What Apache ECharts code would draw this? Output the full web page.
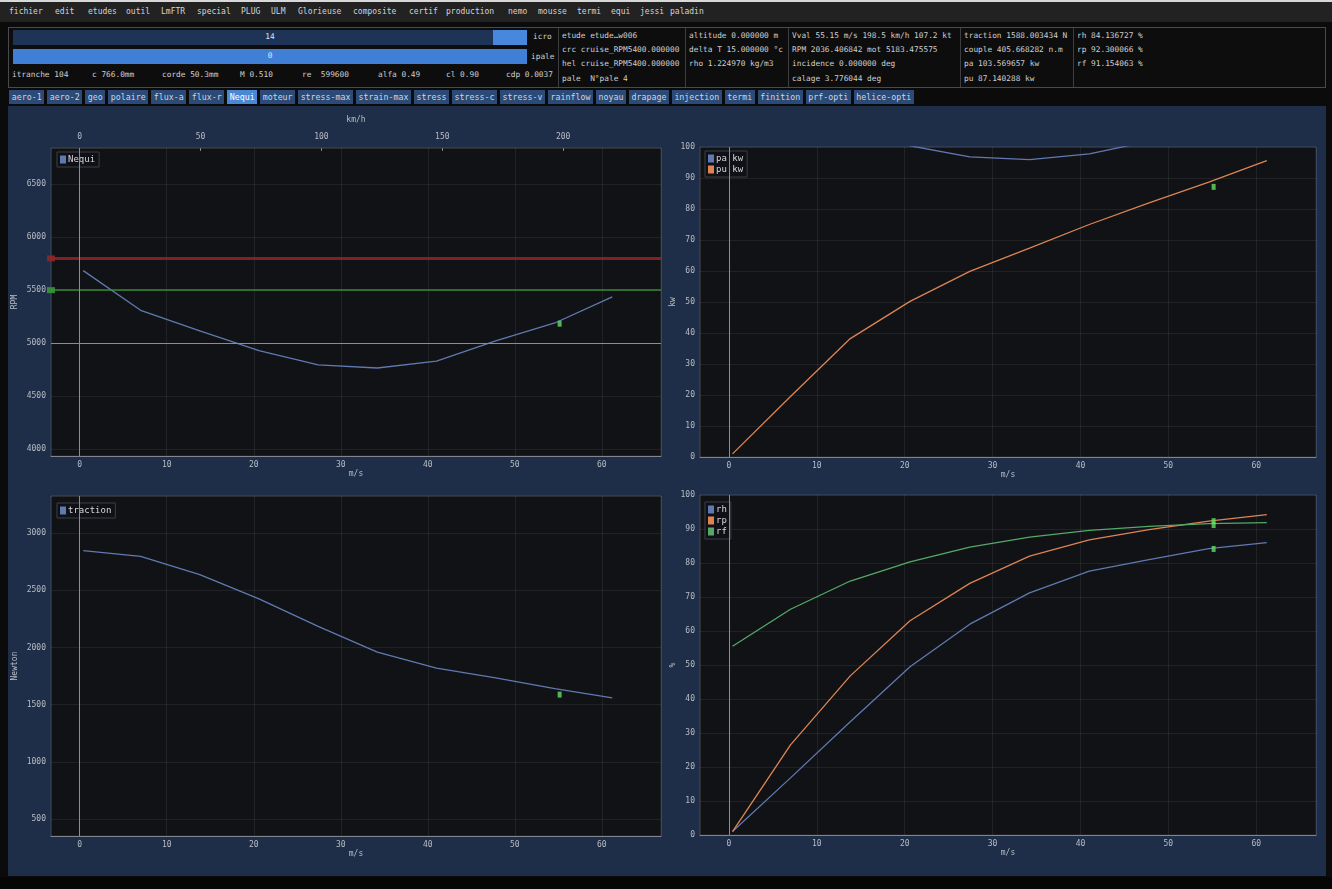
<!DOCTYPE html>
<html>
<head>
<meta charset="utf-8">
<title>Nequi</title>
<script src="https://cdn.jsdelivr.net/npm/echarts@6/dist/echarts.min.js"></script>
<style>
  html, body { margin: 0; padding: 0; width: 1332px; height: 889px; overflow: hidden;
    background: #0b0b0c; font-family: "DejaVu Sans Mono", "Liberation Mono", monospace; }
  .abs { position: absolute; white-space: pre; }
  #strip { left: 0; top: 0; width: 1332px; height: 2px; background: #d8d8d8; }
  #menubar { left: 0; top: 2px; width: 1332px; height: 20px; background: #222223; }
  #menubar span { position: absolute; top: 5px; font-size: 8px; color: #d4d4d4; }
  #info { left: 8px; top: 27px; width: 1316px; height: 59px; border: 1px solid #4a4a4a; background: #0d0d0e; }
  .sep { position: absolute; top: 28px; width: 1px; height: 59px; background: #3e3e3e; }
  .txt { position: absolute; font-size: 7.8px; color: #cfcfcf; white-space: pre; line-height: 10px; }
  .slider { position: absolute; left: 13px; width: 514px; height: 15px; }
  .slider .v { position: absolute; left: 0; right: 0; top: 2px; text-align: center; font-size: 7.8px; color: #dfe6f2; }
  #tabs { left: 9px; top: 90px; height: 14px; display: flex; gap: 2.5px; }
  #tabs div { height: 14px; line-height: 14px; padding: 0 2.75px; font-size: 8.3px; color: #c9d5ea; background: #2b4a76; }
  #tabs div.on { background: #4a88d6; color: #ffffff; }
  #panel { left: 8px; top: 106px; width: 1318px; height: 770px; background: #1f2e48; }
  #bottom { left: 0; top: 877px; width: 1332px; height: 12px; background: #060606; }
  #chart { position: absolute; left: 0; top: 0; width: 1332px; height: 889px; }
</style>
</head>
<body>
<div id="strip" class="abs"></div>
<div id="menubar" class="abs"></div>
<div id="info" class="abs"></div>
<div id="infoContent"></div>
<div id="tabs" class="abs"></div>
<div id="panel" class="abs"></div>
<div id="bottom" class="abs"></div>
<div id="chart"></div>

<script>
// ---------- menu, info block and tabs ----------
const menuItems = ['fichier', 'edit', 'etudes', 'outil', 'LmFTR', 'special', 'PLUG', 'ULM', 'Glorieuse',
  'composite', 'certif', 'production', 'nemo', 'mousse', 'termi', 'equi', 'jessi', 'paladin'];
const menuLeft = [9, 55, 88, 126, 161, 197, 241, 271, 298, 353, 409, 446, 508, 538, 577, 611, 640, 670];

const tabNames = ['aero-1', 'aero-2', 'geo', 'polaire', 'flux-a', 'flux-r', 'Nequi', 'moteur', 'stress-max',
  'strain-max', 'stress', 'stress-c', 'stress-v', 'rainflow', 'noyau', 'drapage', 'injection', 'termi',
  'finition', 'prf-opti', 'helice-opti'];
const activeTab = 'Nequi';

const sliderIcro = 14;
const sliderIpale = 0;
const stationRow = ['itranche 104', 'c 766.0mm', 'corde 50.3mm', 'M 0.510', 're  599600', 'alfa 0.49', 'cl 0.90', 'cdp 0.0037'];
const stationLeft = [12, 92, 162, 240, 302, 378, 446, 506];

const infoColumns = [
  ['etude etude\u2026w006', 'crc cruise_RPM5400.000000', 'hel cruise_RPM5400.000000', 'pale  N\u00b0pale 4'],
  ['altitude 0.000000 m', 'delta T 15.000000 \u00b0c', 'rho 1.224970 kg/m3'],
  ['Vval 55.15 m/s 198.5 km/h 107.2 kt', 'RPM 2036.406842 mot 5183.475575', 'incidence 0.000000 deg', 'calage 3.776044 deg'],
  ['traction 1588.003434 N', 'couple 405.668282 n.m', 'pa 103.569657 kw', 'pu 87.140288 kw'],
  ['rh 84.136727 %', 'rp 92.300066 %', 'rf 91.154063 %']
];
const columnSep = [558, 685, 788, 960, 1073];

(function buildChrome() {
  const mb = document.getElementById('menubar');
  menuItems.forEach((m, i) => {
    const s = document.createElement('span');
    s.textContent = m; s.style.left = menuLeft[i] + 'px'; mb.appendChild(s);
  });
  const tabs = document.getElementById('tabs');
  tabNames.forEach(t => {
    const d = document.createElement('div');
    d.textContent = t; if (t === activeTab) d.className = 'on'; tabs.appendChild(d);
  });
  const box = document.getElementById('infoContent');
  const add = (html) => { box.insertAdjacentHTML('beforeend', html); };
  add(`<div class="slider" style="top:30px;background:#1d3456"><div style="position:absolute;left:480px;top:0;width:34px;height:15px;background:#4787dc"></div><div class="v">${sliderIcro}</div></div>`);
  add(`<div class="slider" style="top:49px;background:#3f80d6"><div class="v">${sliderIpale}</div></div>`);
  add(`<div class="txt" style="left:533px;top:32px">icro</div>`);
  add(`<div class="txt" style="left:531px;top:52px">ipale</div>`);
  stationRow.forEach((t, i) => add(`<div class="txt" style="left:${stationLeft[i]}px;top:70px">${t}</div>`));
  columnSep.forEach(x => add(`<div class="sep" style="left:${x}px"></div>`));
  infoColumns.forEach((col, c) => {
    col.forEach((t, r) => add(`<div class="txt" style="left:${columnSep[c] + 4}px;top:${31 + r * 14.2}px">${t}</div>`));
  });
})();

// ---------- performance curves versus airspeed (m/s) ----------
const speed     = [0.4, 7.0, 13.8, 20.6, 27.4, 34.2, 41.0, 47.8, 54.6, 61.2];
const nequiRpm  = [5684, 5310, 5115, 4930, 4795, 4765, 4830, 5020, 5190, 5436];
const paKw      = [118, 116, 112, 100.4, 96.8, 95.9, 97.8, 101.8, 103.4, 107];
const puKw      = [1.0, 19.5, 38.2, 50.2, 59.9, 67.4, 75.0, 82.0, 88.7, 95.6];
const tractionN = [2846, 2797, 2637, 2425, 2185, 1960, 1820, 1735, 1640, 1560];
const rhPct     = [1.0, 16.8, 33.3, 49.5, 62.0, 71.2, 77.6, 81.0, 84.2, 86.0];
const rpPct     = [1.0, 26.5, 46.8, 63.0, 74.0, 82.0, 86.8, 89.8, 92.3, 94.2];
const rfPct     = [55.5, 66.4, 74.7, 80.3, 84.7, 87.6, 89.6, 90.8, 91.6, 91.9];

// engine RPM limits and reference
const rpmMaxLimit = 5800;
const rpmMinLimit = 5500;
const rpmRef = 5000;

// current operating point
const opSpeed = 55.15;
const opRpm = 5183.475575;
const opPu = 87.140288;
const opTraction = 1588.003434;
const opRh = 84.136727;
const opRp = 92.300066;
const opRf = 91.154063;

const KMH_PER_MS = 3.6;
const X_MIN = -3.3, X_MAX = 66.8;

const pairs = (ys) => speed.map((v, i) => [v, ys[i]]);

const MONO = 'DejaVu Sans Mono';
const C_BLUE = '#6079b0', C_ORANGE = '#dd8452', C_GREEN = '#55a868';
const C_OP = '#5fe05f';
const labelStyle = { color: '#b8bcc4', fontSize: 8, fontFamily: MONO };
const nameStyle = { color: '#b8bcc4', fontSize: 8, fontFamily: MONO };
const splitStyle = { show: true, lineStyle: { color: 'rgba(255,255,255,0.07)', width: 1 } };

const grids = [
  { left: 51, top: 148, width: 610, height: 308 },
  { left: 700, top: 147, width: 616, height: 310 },
  { left: 51, top: 496, width: 610, height: 340 },
  { left: 700, top: 495, width: 616, height: 340 }
].map(g => Object.assign(g, { show: true, backgroundColor: '#111216', borderColor: 'rgba(255,255,255,0.13)', borderWidth: 1 }));

function msAxis(gridIndex) {
  return {
    type: 'value', gridIndex, position: 'bottom', min: X_MIN, max: X_MAX, splitNumber: 7,
    name: 'm/s', nameLocation: 'middle', nameGap: 14, nameTextStyle: nameStyle,
    axisLine: { show: true, onZero: false, lineStyle: { color: '#80858e' } },
    axisTick: { show: false },
    axisLabel: Object.assign({ margin: 5, showMinLabel: false, showMaxLabel: false,
      formatter: v => (Math.abs(v % 10) < 1e-9 ? String(v) : '') }, labelStyle),
    splitLine: splitStyle
  };
}

function valueAxis(gridIndex, name, min, max, step, nameGap) {
  return {
    type: 'value', gridIndex, min, max, splitNumber: Math.round((max - min) / step),
    name, nameLocation: 'middle', nameGap, nameRotate: 90, nameTextStyle: nameStyle,
    axisLine: { show: false }, axisTick: { show: false },
    axisLabel: Object.assign({ margin: 5, showMinLabel: min % step === 0, showMaxLabel: max % step === 0,
      formatter: v => (Math.abs(v % step) < 1e-9 ? String(v) : '') }, labelStyle),
    splitLine: splitStyle
  };
}

const zeroLine = { xAxis: 0, symbol: 'none', lineStyle: { color: '#8a8d92', width: 1, type: 'solid' }, label: { show: false } };

function lineSeries(name, data, color, xi, yi, marks) {
  const s = {
    name, type: 'line', xAxisIndex: xi, yAxisIndex: yi, data, color,
    showSymbol: false, symbol: 'none', lineStyle: { width: 1.3, color }, clip: true, z: 3
  };
  if (marks) s.markLine = { silent: true, animation: false, symbol: 'none', data: marks };
  return s;
}

function opSeries(name, points, xi, yi) {
  return {
    name, type: 'scatter', xAxisIndex: xi, yAxisIndex: yi, data: points,
    symbol: 'rect', symbolSize: [4, 6], itemStyle: { color: C_OP }, z: 5, silent: true
  };
}

const legendBase = {
  orient: 'vertical', icon: 'rect', itemWidth: 6, itemHeight: 8, itemGap: 2,
  padding: [3, 4, 3, 3], backgroundColor: 'rgba(17,18,22,0.95)', borderColor: '#3b3e45', borderWidth: 1,
  selectedMode: false, textStyle: { color: '#d6d8dc', fontSize: 9, fontFamily: MONO, padding: [0, 0, 0, -3] }
};

const option = {
  animation: false,
  backgroundColor: 'transparent',
  grid: grids,
  xAxis: [
    msAxis(0), msAxis(1), msAxis(2), msAxis(3),
    {
      type: 'value', gridIndex: 0, position: 'top', min: X_MIN * KMH_PER_MS, max: X_MAX * KMH_PER_MS, splitNumber: 5,
      name: 'km/h', nameLocation: 'middle', nameGap: 24, nameTextStyle: nameStyle,
      axisLine: { show: false },
      axisTick: { show: true, inside: true, length: 3, lineStyle: { color: '#80858e' } },
      axisLabel: Object.assign({ margin: 7, showMinLabel: false, showMaxLabel: false,
        formatter: v => (Math.abs(v % 50) < 1e-9 ? String(v) : '') }, labelStyle),
      splitLine: { show: false }
    }
  ],
  yAxis: [
    valueAxis(0, 'RPM', 3934, 6842, 500, 32),
    valueAxis(1, 'kw', 0, 100, 10, 20),
    valueAxis(2, 'Newton', 352, 3324, 500, 32),
    valueAxis(3, '%', 0, 100, 10, 20)
  ],
  legend: [
    Object.assign({}, legendBase, { data: ['Nequi'], left: 57, top: 152 }),
    Object.assign({}, legendBase, { data: ['pa kw', 'pu kw'], left: 705, top: 151 }),
    Object.assign({}, legendBase, { data: ['traction'], left: 57, top: 503 }),
    Object.assign({}, legendBase, { data: ['rh', 'rp', 'rf'], left: 705, top: 502 })
  ],
  series: [
    lineSeries('Nequi', pairs(nequiRpm), C_BLUE, 0, 0, [
      { yAxis: rpmMaxLimit, symbol: ['rect', 'rect'], symbolSize: [6, 8],
        itemStyle: { color: '#a83434' }, lineStyle: { color: 'rgba(150,36,36,0.85)', width: 3, type: 'solid' }, label: { show: false } },
      { yAxis: rpmMinLimit, symbol: ['rect', 'rect'], symbolSize: [6, 8],
        itemStyle: { color: '#3fa83f' }, lineStyle: { color: 'rgba(58,150,58,0.9)', width: 1.5, type: 'solid' }, label: { show: false } },
      { yAxis: rpmRef, symbol: 'none', lineStyle: { color: '#8a8d92', width: 1, type: 'solid' }, label: { show: false } },
      zeroLine
    ]),
    opSeries('Nequi point', [[opSpeed, opRpm]], 0, 0),

    lineSeries('pa kw', pairs(paKw), C_BLUE, 1, 1, [zeroLine]),
    lineSeries('pu kw', pairs(puKw), C_ORANGE, 1, 1),
    opSeries('pu point', [[opSpeed, opPu]], 1, 1),

    lineSeries('traction', pairs(tractionN), C_BLUE, 2, 2, [zeroLine]),
    opSeries('traction point', [[opSpeed, opTraction]], 2, 2),

    lineSeries('rh', pairs(rhPct), C_BLUE, 3, 3, [zeroLine]),
    lineSeries('rp', pairs(rpPct), C_ORANGE, 3, 3),
    lineSeries('rf', pairs(rfPct), C_GREEN, 3, 3),
    opSeries('rendement points', [[opSpeed, opRh], [opSpeed, opRp], [opSpeed, opRf]], 3, 3)
  ]
};

const chart = echarts.init(document.getElementById('chart'), null, { renderer: 'canvas' });
chart.setOption(option);
</script>
</body>
</html>
